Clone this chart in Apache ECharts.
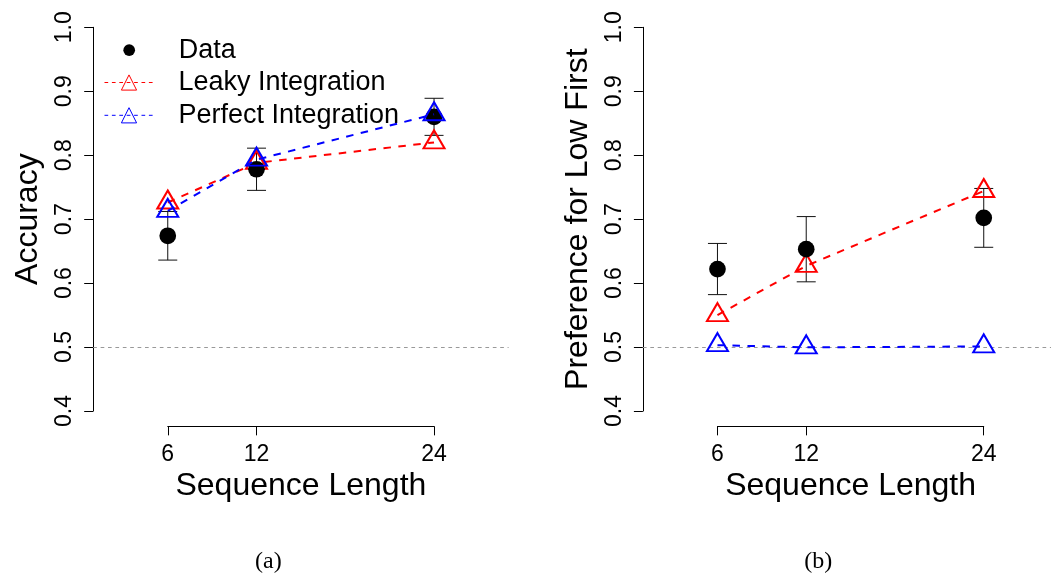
<!DOCTYPE html>
<html>
<head>
<meta charset="utf-8">
<script src="https://cdn.jsdelivr.net/npm/echarts@6/dist/echarts.min.js"></script>
<style>
html,body{margin:0;padding:0;background:#fff;}
#c{width:1051px;height:574px;}
</style>
</head>
<body>
<div id="c"></div>
<script>
// ---------------- data ----------------
const seqLen = [6, 12, 24];
const xTickValues = [6, 12, 24];
const yTickRange = [0.4, 1.0];
const yTickStep = 0.1;

// panel (a): Accuracy
const accData = [0.674, 0.778, 0.860];
const accErr = [0.038, 0.033, 0.029];
const accLeaky = [0.726, 0.788, 0.820];
const accPerfect = [0.713, 0.793, 0.864];

// panel (b): Preference for Low First
const prefData = [0.622, 0.653, 0.702];
const prefErr = [0.040, 0.051, 0.046];
const prefLeaky = [0.550, 0.627, 0.744];
const prefPerfect = [0.503, 0.4995, 0.501];

const chanceLevel = 0.5;

const panelTitles = ['Accuracy', 'Preference for Low First'];
const xTitle = 'Sequence Length';
const captions = ['(a)', '(b)'];
const legendNames = ['Data', 'Leaky Integration', 'Perfect Integration'];

// ---------------- layout ----------------
const FONT = "'Liberation Sans', Arial, Helvetica, sans-serif";
const SERIF = "'Liberation Serif', 'Times New Roman', serif";
const X_LIM = [2, 28];
const ext = (lim) => { const d = (lim[1] - lim[0]) * 0.04; return [lim[0] - d, lim[1] + d]; };
const XR = ext(X_LIM), YR = ext(yTickRange);
const PLOT = { top: 11.95, width: 415.4, height: 414.4 };
const panelLeft = [93.2, 642.9];
const captionX = [268.3, 818.3];

const chart = echarts.init(document.getElementById('c'), null, { renderer: 'canvas' });

const grids = [], xAxes = [], yAxes = [], series = [], titles = [], legends = [];

function errorBarSeries(gi, vals, errs) {
  return {
    type: 'custom', xAxisIndex: gi, yAxisIndex: gi, z: 3, silent: true,
    data: seqLen.map((x, i) => [x, vals[i] - errs[i], vals[i] + errs[i]]),
    renderItem: function (params, api) {
      const x = api.value(0);
      const lo = api.coord([x, api.value(1)]);
      const hi = api.coord([x, api.value(2)]);
      const w = 9.5;
      const st = { stroke: '#111', lineWidth: 1 };
      return { type: 'group', children: [
        { type: 'line', shape: { x1: lo[0], y1: lo[1], x2: hi[0], y2: hi[1] }, style: st },
        { type: 'line', shape: { x1: lo[0] - w, y1: lo[1], x2: lo[0] + w, y2: lo[1] }, style: st },
        { type: 'line', shape: { x1: hi[0] - w, y1: hi[1], x2: hi[0] + w, y2: hi[1] }, style: st }
      ] };
    }
  };
}

function modelSeries(gi, name, vals, color, z) {
  return {
    type: 'line', name: name, xAxisIndex: gi, yAxisIndex: gi, z: z,
    data: seqLen.map((x, i) => [x, vals[i]]),
    clip: false, showAllSymbol: true,
    symbol: 'triangle', symbolSize: [21, 18], symbolOffset: [0, -3],
    itemStyle: { color: 'rgba(0,0,0,0)', borderColor: color, borderWidth: 2 },
    lineStyle: { color: color, width: 2, type: [7.5, 7.5] },
    emphasis: { disabled: true }
  };
}

const panelData = [
  { d: accData, e: accErr, l: accLeaky, p: accPerfect },
  { d: prefData, e: prefErr, l: prefLeaky, p: prefPerfect }
];

panelData.forEach((pd, p) => {
  const L = panelLeft[p];
  const gData = 2 * p, gAxis = 2 * p + 1;
  const xSpan = XR[1] - XR[0], ySpan = YR[1] - YR[0];
  const axLeft = L + (seqLen[0] - XR[0]) / xSpan * PLOT.width;
  const axWidth = (seqLen[seqLen.length - 1] - seqLen[0]) / xSpan * PLOT.width;
  const axTop = PLOT.top + (YR[1] - yTickRange[1]) / ySpan * PLOT.height;
  const axHeight = (yTickRange[1] - yTickRange[0]) / ySpan * PLOT.height;
  const xOff = (yTickRange[0] - YR[0]) / ySpan * PLOT.height;
  const yOff = axLeft - L;

  grids.push({ left: L, top: PLOT.top, width: PLOT.width, height: PLOT.height, containLabel: false, outerBoundsMode: 'none' });
  grids.push({ left: axLeft, top: axTop, width: axWidth, height: axHeight, containLabel: false, outerBoundsMode: 'none' });

  xAxes.push({ gridIndex: gData, type: 'value', min: XR[0], max: XR[1], show: false });
  yAxes.push({ gridIndex: gData, type: 'value', min: YR[0], max: YR[1], show: false });

  xAxes.push({
    gridIndex: gAxis, type: 'value', min: 6, max: 24, interval: 6, position: 'bottom', offset: xOff,
    axisLine: { show: true, lineStyle: { color: '#000', width: 1 } },
    axisTick: { show: true, length: 9, customValues: xTickValues, lineStyle: { color: '#000', width: 1 } },
    axisLabel: { show: true, customValues: xTickValues, fontSize: 23, color: '#000', fontFamily: FONT, margin: 17 },
    splitLine: { show: false },
    name: xTitle, nameLocation: 'middle', nameGap: 44, nameMoveOverlap: false,
    nameTextStyle: { fontSize: 32, color: '#000', fontFamily: FONT }
  });
  yAxes.push({
    gridIndex: gAxis, type: 'value', min: yTickRange[0], max: yTickRange[1], interval: yTickStep,
    position: 'left', offset: yOff,
    axisLine: { show: true, lineStyle: { color: '#000', width: 1 } },
    axisTick: { show: true, length: 9, lineStyle: { color: '#000', width: 1 } },
    axisLabel: { show: true, rotate: 90, fontSize: 23, color: '#000', fontFamily: FONT, margin: 17,
      formatter: (v) => v.toFixed(1) },
    splitLine: { show: false },
    name: panelTitles[p], nameLocation: 'middle', nameGap: 49, nameMoveOverlap: false,
    nameTextStyle: { fontSize: 32, color: '#000', fontFamily: FONT }
  });

  series.push(errorBarSeries(gData, pd.d, pd.e));
  series.push(modelSeries(gData, legendNames[1], pd.l, '#ff0000', 4));
  series.push({
    type: 'scatter', name: legendNames[0], xAxisIndex: gData, yAxisIndex: gData, z: 5,
    data: seqLen.map((x, i) => [x, pd.d[i]]), clip: false,
    symbol: 'circle', symbolSize: 16.7, itemStyle: { color: '#000', opacity: 1 },
    emphasis: { disabled: true },
    markLine: {
      silent: true, symbol: ['none', 'none'], label: { show: false }, animation: false,
      lineStyle: { color: '#999', width: 1, type: [3.7, 3.7] },
      emphasis: { disabled: true },
      data: [{ yAxis: chanceLevel }]
    }
  });
  series.push(modelSeries(gData, legendNames[2], pd.p, '#0000ff', 6));

  titles.push({
    text: captions[p], left: captionX[p], top: 549.7, textAlign: 'center', padding: 0,
    textStyle: { fontFamily: SERIF, fontSize: 24, fontWeight: 'normal', color: '#000' }
  });
});

// legends (panel a)
const legendCenters = [50.2, 82.5, 115.3];
const legText = () => ({ fontSize: 27, color: '#000', fontFamily: FONT, padding: [0, 0, 0, 20] });
legends.push({
  data: [legendNames[0]], left: 123.35, top: legendCenters[0] - 13.5, padding: 0, orient: 'vertical',
  itemWidth: 49, itemHeight: 11.7, icon: 'circle', selectedMode: false, textStyle: legText(),
  itemStyle: { color: '#000', opacity: 1 }
});
[1, 2].forEach((k) => {
  legends.push({
    data: [legendNames[k]], left: 104, top: legendCenters[k] - 13.5, padding: 0, orient: 'vertical',
    itemWidth: 49, itemHeight: 19, selectedMode: false, textStyle: legText(),
    itemStyle: { borderWidth: 1 },
    lineStyle: { width: 1, type: [3.7, 3.7] }
  });
});

chart.setOption({
  animation: false,
  backgroundColor: '#fff',
  title: titles,
  legend: legends,
  grid: grids,
  xAxis: xAxes,
  yAxis: yAxes,
  series: series
});
</script>
</body>
</html>
